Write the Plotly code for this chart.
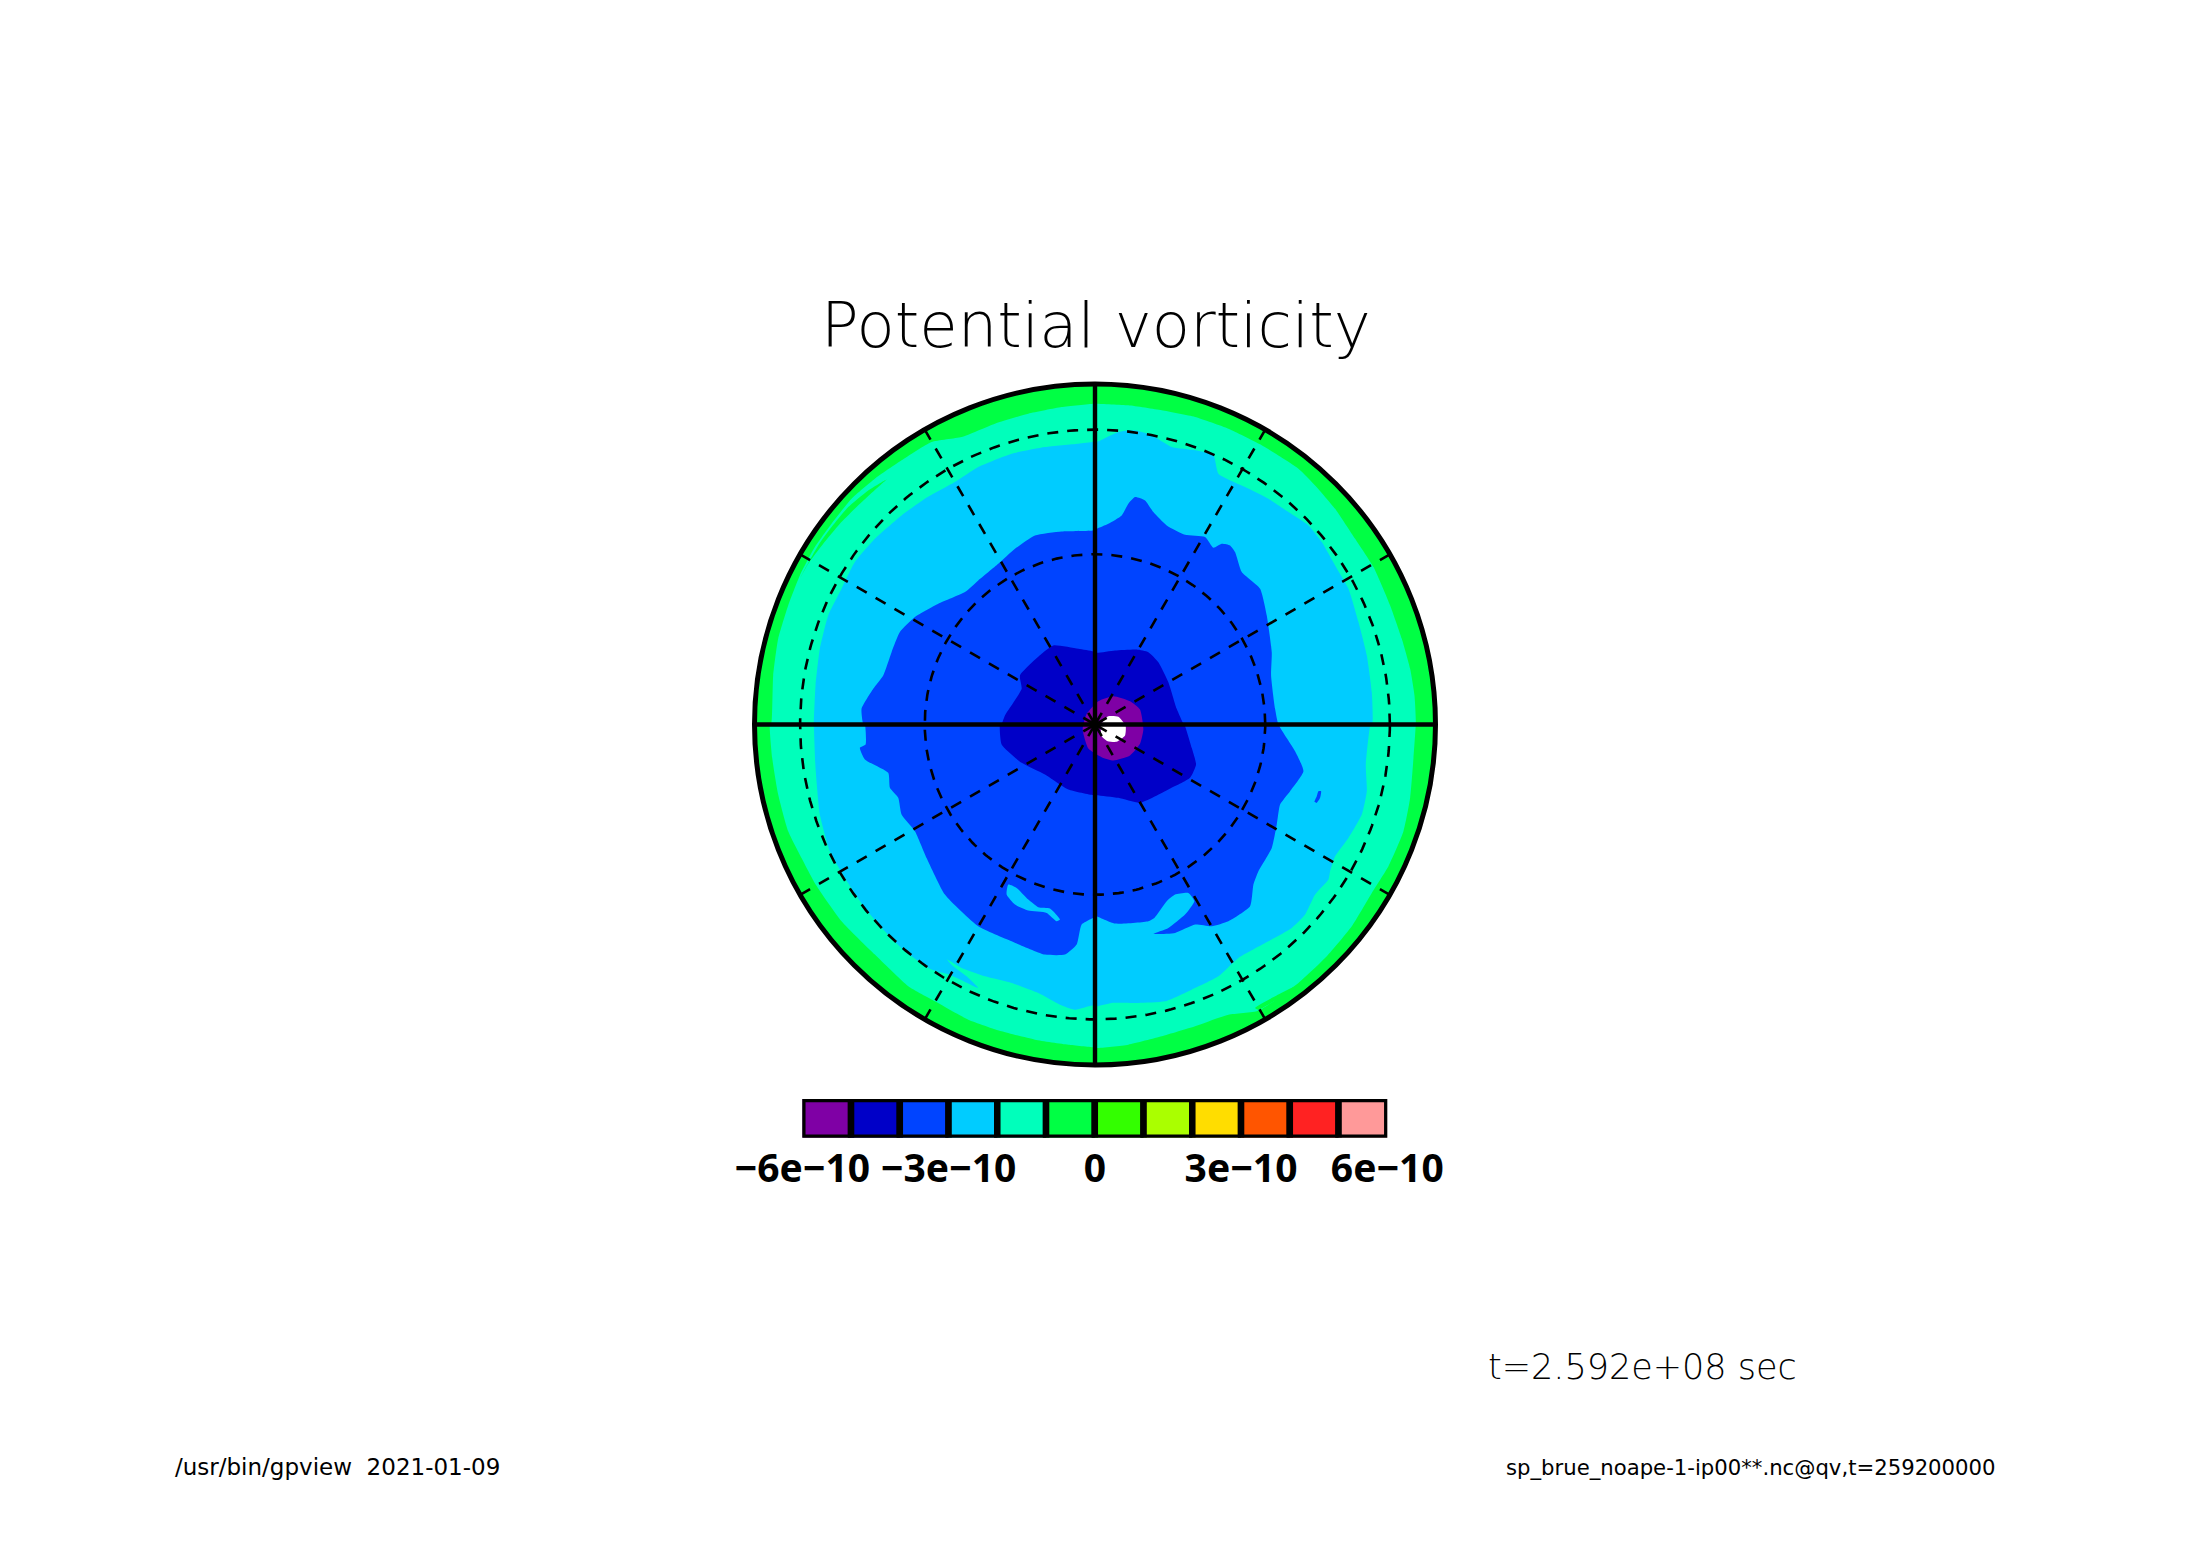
import numpy as np
import plotly.graph_objects as go

W = 2188
H = 1546

# map coordinates, rim of the disc at 1021
RIM = 1021
GRAT_LATS = [60, 30]
SPOKE_ANGLES = [30, 60, 120, 150, 210, 240, 300, 330]

# contour between 0..-1e-10 band and -1e-10..-2e-10 band
c1_x = [962, 958, 945, 920, 885, 835, 780, 720, 660, 610, 495, 400, 300, 200, 100, 5,
        -5, -100, -200, -300, -400, -490, -580, -660, -730, -790, -840, -885, -920, -950, -965, -970,
        -975, -968, -950, -920, -880, -836, -760, -660, -560, -480, -380, -280, -180, -80, -5,
        5, 100, 200, 300, 400, 490, 610, 695, 770, 830, 880, 925, 945, 955]
c1_y = [7, 87, 167, 257, 357, 472, 557, 647, 717, 767, 840, 887, 922, 942, 957, 962,
        962, 952, 932, 902, 862, 847, 792, 737, 677, 602, 532, 447, 357, 257, 147, 7,
        0, -100, -210, -320, -400, -482, -590, -690, -785, -830, -885, -920, -945, -960, -968,
        -970, -960, -935, -905, -870, -858, -775, -695, -605, -505, -425, -320, -220, -100]

# thin tongues of the same band
tongue1_x = [-625, -680, -740, -790, -830, -875, -885, -860, -815, -765, -705, -645]
tongue1_y = [735, 702, 652, 592, 537, 457, 437, 482, 542, 602, 662, 717]
tongue2_x = [480, 540, 595, 600, 545, 490]
tongue2_y = [-850, -815, -788, -792, -825, -855]

# -2e-10 contour
c2_x = [832, 830, 815, 790, 760, 720, 680, 640, 580, 520, 450, 370, 355, 300, 230, 170, 120, 70, 5,
        -5, -50, -150, -250, -350, -420, -510, -580, -660, -720, -760, -800, -825, -838, -843,
        -843, -838, -825, -795, -750, -690, -630, -570, -490, -438, -390, -350, -385, -425, -443, -400,
        -330, -250, -170, -105, -60, -5,
        5, 50, 130, 210, 290, 370, 430, 520, 590, 630, 660, 700, 705, 720, 760, 800, 815, 812, 825]
c2_y = [7, 97, 207, 307, 407, 477, 547, 597, 637, 677, 712, 752, 807, 822, 832, 867, 882, 877, 847,
        847, 842, 832, 812, 772, 727, 677, 627, 557, 487, 407, 327, 227, 117, 7,
        0, -130, -270, -380, -460, -550, -620, -680, -735, -750, -772, -790, -755, -725, -705, -730,
        -755, -775, -805, -840, -855, -842,
        -845, -835, -835, -830, -795, -755, -700, -650, -610, -570, -510, -465, -440, -395, -340, -270, -200, -120, -5]

# -3e-10 contour, the lake south of the pole is open to the outside
c3_x = [550, 540, 528, 530, 515, 495, 440, 420, 405, 380, 355, 330, 270, 215, 175, 150, 120, 100, 80, 40, 5,
        -5, -100, -180, -240, -290, -350, -390, -470, -540, -585, -610, -635, -665, -700, -695,
        -690, -688, -705, -690, -620, -615, -590, -580, -540, -505, -450, -350, -250, -150, -90, -55, -40, 5,
        5, 60, 160, 178, 215, 240, 280, 298, 270, 220, 175, 240, 300, 350, 400, 465, 475, 490, 530, 545, 555, 585, 625, 600]
c3_y = [0, 47, 147, 217, 327, 407, 457, 517, 537, 542, 530, 562, 569, 597, 637, 672, 682, 662, 627, 602, 587,
        582, 579, 567, 527, 482, 432, 397, 362, 322, 277, 217, 147, 107, 47, 2,
        0, -60, -70, -105, -145, -190, -220, -270, -320, -400, -510, -605, -650, -690, -690, -660, -600, -575,
        -575, -597, -590, -580, -530, -510, -505, -530, -570, -610, -628, -625, -600, -605, -590, -545, -480, -440, -370, -300, -240, -200, -140, -80]

# closed lake and small spot
lake_x = [-260, -235, -200, -170, -135, -105, -115, -145, -200, -240, -265]
lake_y = [-480, -490, -525, -548, -552, -585, -590, -565, -558, -540, -510]
spot_x = [670, 678, 675, 665, 658, 665]
spot_y = [-200, -200, -220, -235, -232, -215]

# -4e-10 contour
c4_x = [265, 245, 220, 190, 160, 125, 60, 5, -5, -50, -125, -160, -225, -220, -270, -280,
        -285, -280, -220, -150, -80, -5, 5, 70, 135, 220, 285, 303, 290, 270]
c4_y = [2, 47, 127, 187, 217, 225, 222, 215, 219, 227, 237, 212, 147, 107, 27, 2,
        0, -60, -115, -150, -195, -212, -212, -220, -235, -195, -160, -120, -70, -5]

# -5e-10 contour around the pole
c5_x = [145, 135, 105, 55, 10, -25, -37, -20, 20, 55, 105, 135]
c5_y = [-15, 45, 70, 85, 70, 32, -15, -72, -98, -108, -93, -58]

# undefined values
hole_x = [38, 70, 92, 90, 65, 38, 20, 18]
hole_y = [24, 23, -5, -33, -52, -50, -35, 0]

# colour bar
bar_levels = [-5.5e-10, -4.5e-10, -3.5e-10, -2.5e-10, -1.5e-10, -0.5e-10,
              0.5e-10, 1.5e-10, 2.5e-10, 3.5e-10, 4.5e-10, 5.5e-10]
bar_colors = ["#7f00a5", "#0000c8", "#0044ff", "#00ccff", "#00ffbb", "#00ff44",
              "#33ff00", "#aaff00", "#ffdd00", "#ff5500", "#ff2222", "#ff9999"]
bar_ticks = [-6e-10, -3e-10, 0, 3e-10, 6e-10]
bar_labels = ["\u22126e\u221210", "\u22123e\u221210", "0", "3e\u221210", "6e\u221210"]

C_GREEN = bar_colors[5]
C_AQUA = bar_colors[4]
C_SKY = bar_colors[3]
C_BLUE = bar_colors[2]
C_DARK = bar_colors[1]
C_PURPLE = bar_colors[0]

fig = go.Figure()


def patch(x, y, color):
    fig.add_trace(go.Scatter(x=x + x[:1], y=y + y[:1], mode="lines", fill="toself",
                             fillcolor=color, line=dict(width=0, color=color, shape="spline", smoothing=0.5),
                             hoverinfo="skip", showlegend=False))


def rule(x, y, width, dash="solid"):
    fig.add_trace(go.Scatter(x=x, y=y, mode="lines", line=dict(color="black", width=width, dash=dash),
                             hoverinfo="skip", showlegend=False))


patch(c1_x, c1_y, C_AQUA)
patch(tongue1_x, tongue1_y, C_GREEN)
patch(tongue2_x, tongue2_y, C_GREEN)
patch(c2_x, c2_y, C_SKY)
patch(c3_x, c3_y, C_BLUE)
patch(lake_x, lake_y, C_SKY)
patch(spot_x, spot_y, C_BLUE)
patch(c4_x, c4_y, C_DARK)
patch(c5_x, c5_y, C_PURPLE)
patch(hole_x, hole_y, "white")

# graticule
theta = np.linspace(0, 2 * np.pi, 361)
for lat in GRAT_LATS:
    r = RIM * np.cos(np.radians(lat))
    rule(r * np.cos(theta), r * np.sin(theta), 2.6, "11px,9px")
for ang in SPOKE_ANGLES:
    a = np.radians(ang)
    rule([RIM * np.cos(a), 0], [RIM * np.sin(a), 0], 2.6, "11.5px,10.3px")
rule([-RIM, RIM], [0, 0], 4.4)
rule([0, 0], [-RIM, RIM], 4.4)

# colour bar
fig.add_trace(go.Bar(x=bar_levels, y=[1] * 12, width=1e-10, marker=dict(color=bar_colors, line=dict(color="black", width=6.5)),
                     xaxis="x2", yaxis="y2", cliponaxis=False, hoverinfo="skip", showlegend=False))

PAD = 1040
half = 340.5 * PAD / RIM
cx, cy = 1095, 724.5

fig.add_shape(type="circle", xref="x", yref="y", x0=-RIM, x1=RIM, y0=-RIM, y1=RIM,
              fillcolor=C_GREEN, line=dict(width=0), layer="below")
fig.add_shape(type="circle", xref="x", yref="y", x0=-RIM, x1=RIM, y0=-RIM, y1=RIM,
              line=dict(color="black", width=5), layer="above")

fig.update_layout(
    width=W, height=H,
    margin=dict(l=0, r=0, t=0, b=0, autoexpand=False),
    paper_bgcolor="white", plot_bgcolor="white",
    showlegend=False,
    xaxis=dict(domain=[(cx - half) / W, (cx + half) / W], range=[-PAD, PAD], visible=False, automargin=False),
    yaxis=dict(domain=[1 - (cy + half) / H, 1 - (cy - half) / H], range=[-PAD, PAD], visible=False, automargin=False),
    xaxis2=dict(domain=[802.3 / W, 1387.3 / W], range=[-6e-10, 6e-10], anchor="y2", automargin=False,
                tickmode="array", tickvals=bar_ticks, ticktext=bar_labels, tickangle=0,
                showgrid=False, zeroline=False, showline=False,
                ticks="", ticklabelstandoff=4,
                tickfont=dict(family="Noto Sans", size=39, color="black", weight=700)),
    yaxis2=dict(domain=[1 - 1137.7 / H, 1 - 1099 / H], range=[0, 1], anchor="x2", visible=False, automargin=False),
)


def label(text, px, py, size, family, anchor="left", weight=None):
    fig.add_annotation(text=text, x=px / W, y=1 - py / H, xref="paper", yref="paper", showarrow=False,
                       xanchor=anchor, yanchor="middle",
                       font=dict(family=family, size=size, color="black", weight=weight))


label("Potential vorticity", 1096, 325, 62.5, "DejaVu Sans Light", "center")
label("t=2.592e+08 sec", 1486, 1367, 35, "DejaVu Sans Light")
label("/usr/bin/gpview  2021-01-09", 173, 1467, 23, "DejaVu Sans")
label("sp_brue_noape-1-ip00**.nc@qv,t=259200000", 1504, 1467, 21.2, "DejaVu Sans")

fig.write_html("out.html", config={"displayModeBar": False}, post_script="document.body.style.margin='0';")
